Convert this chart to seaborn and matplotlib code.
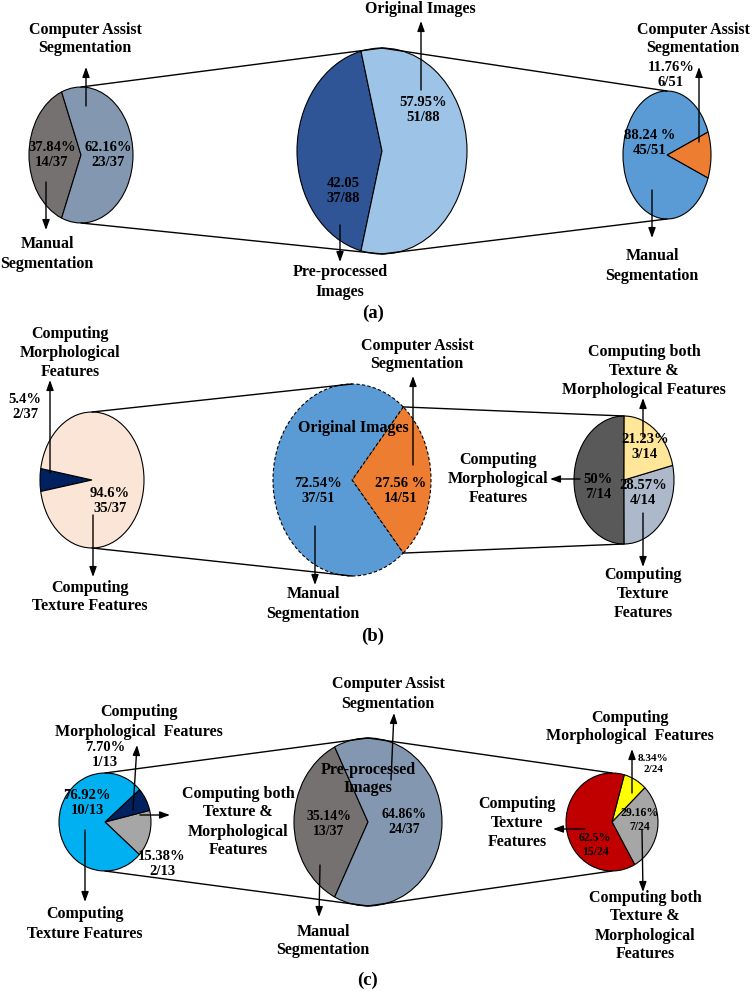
import numpy as np
import seaborn as sns
from matplotlib import pyplot as plt

W, H = 752, 991

# ---------------- data ----------------
# (a)
a_left_vals = [37.84, 62.16]      # Manual, Computer Assist (pre-processed images)
a_left_text = ["37.84%\n14/37", "62.16%\n23/37"]
a_mid_vals = [42.05, 57.95]       # Pre-processed, Original
a_mid_text = ["42.05\n37/88", "57.95%\n51/88"]
a_right_vals = [11.76, 88.24]     # Computer Assist, Manual (original images)
a_right_text = ["11.76%\n6/51", "88.24 %\n45/51"]

# (b)
b_left_vals = [5.4, 94.6]         # Morphological, Texture
b_left_text = ["5.4%\n2/37", "94.6%\n35/37"]
b_mid_vals = [27.56, 72.54]       # Computer Assist, Manual
b_mid_text = ["27.56 %\n14/51", "72.54%\n37/51"]
b_right_vals = [50, 28.57, 21.23] # Morphological, Texture, both
b_right_text = ["50%\n7/14", "28.57%\n4/14", "21.23%\n3/14"]

# (c)
c_left_vals = [15.38, 7.70, 76.92]   # both, Morphological, Texture
c_left_text = ["15.38%\n2/13", "7.70%\n1/13", "76.92%\n10/13"]
c_mid_vals = [35.14, 64.86]          # Manual, Computer Assist
c_mid_text = ["35.14%\n13/37", "64.86%\n24/37"]
c_right_vals = [29.16, 8.34, 62.5]   # both, Morphological, Texture
c_right_text = ["29.16%\n7/24", "8.34%\n2/24", "62.5%\n15/24"]

# ---------------- style ----------------
sns.set_theme(style="white")
plt.rcParams["font.family"] = ["Liberation Serif", "DejaVu Serif"]
plt.rcParams["font.weight"] = "bold"

fig = plt.figure(figsize=(W / 100, H / 100), dpi=100)
fig.patch.set_facecolor("white")


def draw_pie(cx, cy, rx, ry, vals, colors, mid, ls="-"):
    # one axes per pie, stretched to the ellipse box
    pax = fig.add_axes([(cx - rx) / W, 1 - (cy + ry) / H, 2 * rx / W, 2 * ry / H])
    frac = vals[0] / sum(vals)
    wedges, _ = pax.pie(vals, colors=colors, startangle=mid - frac * 180,
                        wedgeprops=dict(edgecolor="black", linewidth=0.8, linestyle=ls))
    for w in wedges:
        w.set_clip_on(False)
    pax.set_aspect("auto")
    pax.set_xlim(-1, 1)
    pax.set_ylim(-1, 1)
    pax.axis("off")
    return (cx, cy, rx, ry), wedges


def on_edge(box, ang):
    cx, cy, rx, ry = box
    t = np.deg2rad(ang)
    return cx + rx * np.cos(t), cy - ry * np.sin(t)


a1, _ = draw_pie(81, 155, 52, 68, a_left_vals, ["#767171", "#8497b0"], 180)
a2, _ = draw_pie(382, 151, 85, 103, a_mid_vals, ["#2f5597", "#9dc3e6"], 180)
a3, _ = draw_pie(667, 155, 44, 64, a_right_vals, ["#ed7d31", "#5b9bd5"], 0)

b1, _ = draw_pie(92, 480, 52, 68, b_left_vals, ["#002060", "#fbe5d6"], 180)
b2, bw = draw_pie(352, 480, 79, 96, b_mid_vals, ["#ed7d31", "#5b9bd5"], 0, ls=(0, (3, 2)))
b3, _ = draw_pie(624, 480, 50, 64, b_right_vals, ["#595959", "#adb9ca", "#ffe699"], 180)

c1, _ = draw_pie(105, 822, 46, 49, c_left_vals, ["#a6a6a6", "#002060", "#00b0f0"], -14)
c2, _ = draw_pie(368, 822, 74, 84, c_mid_vals, ["#767171", "#8497b0"], 180)
c3, _ = draw_pie(612, 822, 46, 49, c_right_vals, ["#a6a6a6", "#ffff00", "#c00000"], -8)

# overlay for connectors, arrows and labels (pixel coordinates)
ov = fig.add_axes([0, 0, 1, 1])
ov.set_xlim(0, W)
ov.set_ylim(H, 0)
ov.axis("off")


def link(p, q):
    ov.plot([p[0], q[0]], [p[1], q[1]], color="black", lw=1)


for left, right in [(a1, a2), (a2, a3), (b1, b2), (c1, c2), (c2, c3)]:
    link(on_edge(left, 90), on_edge(right, 90))
    link(on_edge(left, 270), on_edge(right, 270))
# the orange slice of (b) opens into the right pie
link(on_edge(b2, bw[0].theta2), on_edge(b3, 90))
link(on_edge(b2, bw[0].theta1), on_edge(b3, 270))


def arrow(tail, tip):
    ov.annotate("", xy=tip, xytext=tail,
                arrowprops=dict(arrowstyle="-|>,head_length=0.5,head_width=0.18",
                                color="black", lw=1, shrinkA=0, shrinkB=0))


def label(s, x, y, size=11.5, ls=1.25):
    ov.text(x, y, s, ha="center", va="center", fontsize=size, fontweight="bold",
            color="black", linespacing=ls)


def pct(s, x, y, size=10.5):
    label(s, x, y, size, 1.15)


# ---- (a) ----
label("Computer Assist\nSegmentation", 85, 39)
arrow((86, 106), (86, 67))
pct(a_left_text[0], 52, 155)
pct(a_left_text[1], 108, 155)
arrow((46, 182), (46, 230))
label("Manual\nSegmentation", 47, 254)

label("Original Images", 420, 9)
arrow((421, 90), (421, 21))
pct(a_mid_text[1], 423, 110)
pct(a_mid_text[0], 343, 191)
arrow((340, 225), (340, 262))
label("Pre-processed\nImages", 340, 282)

label("Computer Assist\nSegmentation", 693, 39)
pct(a_right_text[0], 671, 75)
arrow((699, 142), (699, 67))
pct(a_right_text[1], 650, 143)
arrow((652, 190), (652, 238))
label("Manual\nSegmentation", 652, 266)
label("(a)", 373, 313, 13.5)

# ---- (b) ----
label("Computing\nMorphological\nFeatures", 70, 353)
arrow((50, 473), (50, 380))
pct(b_left_text[0], 25, 407)
pct(b_left_text[1], 110, 501)
arrow((93, 515), (93, 577))
label("Computing\nTexture Features", 90, 597)

label("Computer Assist\nSegmentation", 417, 355)
arrow((413, 465), (413, 376))
label("Original Images", 353, 428)
pct(b_mid_text[1], 318, 491)
pct(b_mid_text[0], 401, 491)
arrow((315, 526), (315, 585))
label("Manual\nSegmentation", 313, 604)

label("Computing both\nTexture &\nMorphological Features", 644, 371)
arrow((643, 437), (643, 398))
pct(b_right_text[2], 645, 447)
pct(b_right_text[1], 643, 493)
pct(b_right_text[0], 598, 487)
arrow((580, 479), (550, 479))
label("Computing\nMorphological\nFeatures", 498, 479)
arrow((643, 513), (643, 567))
label("Computing\nTexture\nFeatures", 643, 594)
label("(b)", 373, 636, 13.5)

# ---- (c) ----
label("Computing\nMorphological  Features", 139, 722)
arrow((133, 810), (137, 745))
pct(c_left_text[1], 105, 755)
pct(c_left_text[2], 87, 803)
arrow((140, 815), (170, 815))
label("Computing both\nTexture &\nMorphological\nFeatures", 238, 822)
pct(c_left_text[0], 162, 864)
arrow((85, 830), (85, 902))
label("Computing\nTexture Features", 85, 924)

label("Computer Assist\nSegmentation", 388, 694)
arrow((391, 780), (394, 713))
label("Pre-processed\nImages", 368, 779)
pct(c_mid_text[0], 329, 824, 10)
pct(c_mid_text[1], 404, 822, 10)
arrow((320, 865), (319, 917))
label("Manual\nSegmentation", 323, 941)
label("(c)", 368, 980, 13.5)

label("Computing\nMorphological  Features", 630, 727)
arrow((632, 793), (632, 749))
pct(c_right_text[1], 653, 764, 8)
pct(c_right_text[0], 640, 820, 8.5)
pct(c_right_text[2], 595, 845, 8.5)
arrow((585, 829), (553, 829))
label("Computing\nTexture\nFeatures", 517, 823)
arrow((642, 830), (643, 892))
label("Computing both\nTexture &\nMorphological\nFeatures", 645, 926)

fig.savefig("out.png", dpi=100, facecolor="white")
